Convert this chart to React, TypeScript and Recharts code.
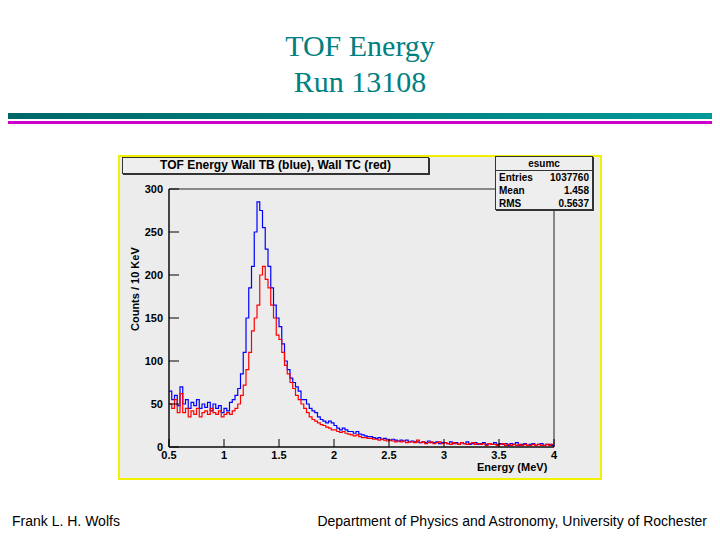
import React from "react";
import { LineChart, Line, XAxis, YAxis, ReferenceArea } from "recharts";

const energies: number[] = [];
for (let i = 0; i <= 140; i++) energies.push(+(0.5 + i * 0.025).toFixed(3));

const blueCounts = [
  65, 55, 60, 48, 70, 50, 55, 45, 52, 48, 55, 45, 50, 46, 52, 42, 50, 45, 48, 40,
  45, 42, 52, 55, 60, 68, 85, 110, 150, 185, 210, 250, 285, 275, 255, 230, 210, 185, 165, 150,
  140, 120, 100, 90, 80, 75, 70, 65, 55, 55, 50, 45, 42, 40, 35, 32, 30, 28, 30, 28,
  25, 22, 20, 22, 20, 18, 18, 16, 18, 15, 14, 13, 12, 12, 11, 10, 11, 9, 10, 9,
  8, 9, 8, 7, 8, 7, 8, 6, 7, 6, 6, 5, 6, 5, 7, 5, 5, 6, 4, 5,
  5, 4, 6, 4, 5, 3, 5, 4, 6, 3, 4, 5, 3, 4, 5, 3, 4, 3, 5, 3,
  4, 3, 4, 2, 4, 3, 5, 2, 3, 4, 2, 3, 4, 2, 3, 4, 2, 3, 3, 2, 4,
];
const redCounts = [
  50, 45, 55, 40, 62, 40, 45, 35, 42, 38, 45, 35, 40, 42, 38, 45, 40, 38, 42, 35,
  38, 40, 38, 42, 45, 50, 60, 72, 90, 110, 135, 150, 165, 200, 210, 195, 185, 165, 150, 130,
  125, 110, 95, 85, 75, 68, 60, 55, 50, 45, 40, 35, 32, 30, 28, 26, 25, 23, 22, 20,
  20, 18, 17, 18, 16, 15, 14, 13, 14, 12, 11, 11, 10, 10, 9, 9, 8, 9, 8, 7,
  8, 7, 6, 7, 6, 7, 5, 6, 6, 5, 8, 5, 6, 4, 5, 6, 4, 5, 6, 4,
  5, 4, 3, 5, 4, 3, 5, 4, 3, 4, 5, 3, 4, 3, 4, 2, 4, 3, 3, 2,
  3, 4, 2, 3, 2, 3, 2, 3, 2, 3, 2, 2, 3, 2, 3, 2, 2, 3, 2, 3, 2,
];
const xTicks = [0.5, 1, 1.5, 2, 2.5, 3, 3.5, 4];
const yTicks = [0, 50, 100, 150, 200, 250, 300];

const data = energies.map((e, i) => ({ e, blue: blueCounts[i], red: redCounts[i] }));

const sans = "'Liberation Sans', Arial, sans-serif";

export default function App() {
  return (
    <div style={{ position: "relative", width: 720, height: 540, margin: -8, background: "#fff", overflow: "hidden" }}>
      <div style={{ position: "absolute", top: 28, width: 720, textAlign: "center", fontFamily: "'Liberation Serif', serif", fontSize: 30, lineHeight: "36px", color: "#008080" }}>
        TOF Energy<br />Run 13108
      </div>
      <div style={{ position: "absolute", left: 0, top: 113, width: 720, height: 6, background: "linear-gradient(90deg,#006666,#009999)" }} />
      <div style={{ position: "absolute", left: 0, top: 121, width: 720, height: 3, background: "#cc00cc" }} />
      <div style={{ position: "absolute", left: 118, top: 155, width: 480, height: 321, border: "2px solid #f0f000", background: "#ececec" }} />
      <div style={{ position: "absolute", left: 120, top: 157 }}>
        <LineChart width={480} height={321} data={data} margin={{ top: 32, right: 46, bottom: 1, left: 17 }}>
          <ReferenceArea x1={0.5} x2={4} y1={0} y2={300} fill="none" stroke="#222" strokeWidth={1} ifOverflow="visible" />
          <XAxis dataKey="e" type="number" domain={[0.5, 4]} ticks={xTicks} stroke="#000" tickSize={-8} tickLine={{ stroke: "#000" }}
            tick={{ fill: "#000", fontFamily: sans, fontWeight: "bold", fontSize: 11, dy: 10 }} height={30} allowDataOverflow />
          <YAxis type="number" domain={[0, 300]} ticks={yTicks} stroke="#000" tickSize={-10} width={32}
            tick={{ fill: "#000", fontFamily: sans, fontWeight: "bold", fontSize: 11, dx: -14 }} allowDataOverflow />
          <Line dataKey="blue" type="stepAfter" stroke="#0000ff" strokeWidth={1.2} dot={false} isAnimationActive={false} />
          <Line dataKey="red" type="stepAfter" stroke="#ff0000" strokeWidth={1.2} dot={false} isAnimationActive={false} />
        </LineChart>
      </div>
      <div style={{ position: "absolute", left: 135, top: 243, transform: "rotate(-90deg)", transformOrigin: "left top", fontFamily: sans, fontWeight: "bold", fontSize: 11, whiteSpace: "nowrap", width: 0 }}>
        <span style={{ position: "absolute", left: -88, top: -6 }}>Counts / 10 KeV</span>
      </div>
      <div style={{ position: "absolute", left: 477, top: 461, fontFamily: sans, fontWeight: "bold", fontSize: 11 }}>Energy (MeV)</div>
      <div style={{ position: "absolute", left: 122, top: 157, width: 305, height: 15, border: "1px solid #333", boxShadow: "1px 1px 0 #333", background: "#eee", fontFamily: sans, fontWeight: "bold", fontSize: 12, textAlign: "center", lineHeight: "15px" }}>
        TOF Energy Wall TB (blue), Wall TC (red)
      </div>
      <div style={{ position: "absolute", left: 495, top: 156, width: 96, height: 52, border: "1px solid #333", boxShadow: "1px 1px 0 #333", background: "#eee", fontFamily: sans, fontWeight: "bold", fontSize: 10, lineHeight: "13px" }}>
        <div style={{ textAlign: "center", borderBottom: "1px solid #333" }}>esumc</div>
        <div style={{ display: "flex", justifyContent: "space-between", padding: "0 3px" }}><span>Entries</span><span>1037760</span></div>
        <div style={{ display: "flex", justifyContent: "space-between", padding: "0 3px" }}><span>Mean</span><span>1.458</span></div>
        <div style={{ display: "flex", justifyContent: "space-between", padding: "0 3px" }}><span>RMS</span><span>0.5637</span></div>
      </div>
      <div style={{ position: "absolute", left: 12, top: 513, fontFamily: sans, fontSize: 14 }}>Frank L. H. Wolfs</div>
      <div style={{ position: "absolute", right: 13, top: 513, fontFamily: sans, fontSize: 14 }}>Department of Physics and Astronomy, University of Rochester</div>
    </div>
  );
}
